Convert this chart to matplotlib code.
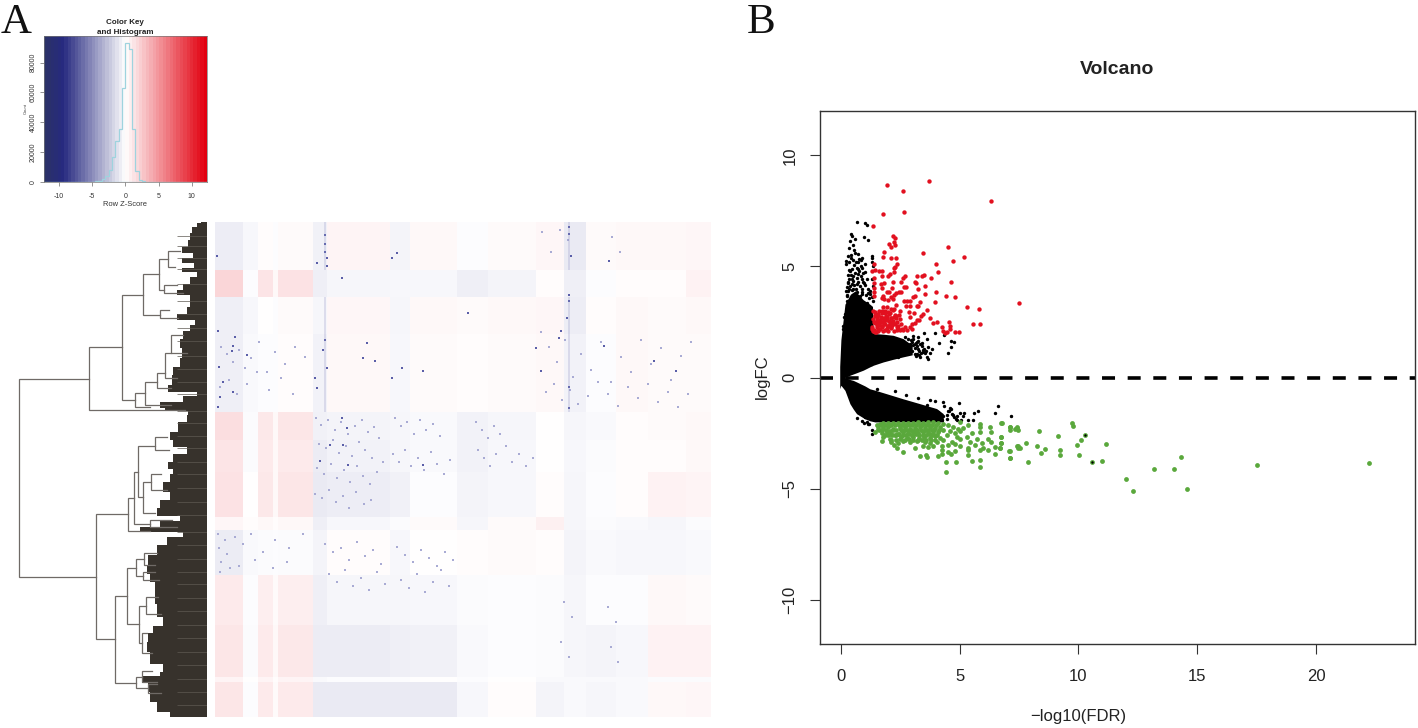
"""Two panel figure: heatmap with dendrogram and colour key (A), volcano plot (B)."""
import numpy as np
import matplotlib
matplotlib.use("Agg")
import matplotlib.pyplot as plt
from matplotlib.colors import LinearSegmentedColormap, Normalize

plt.rcParams['font.family'] = ['Liberation Sans', 'DejaVu Sans']

W, H = 1418, 728

# colour key histogram
hist_edges = [-5, -4.5, -4, -3.5, -3, -2.5, -2, -1.5, -1, -0.5, 0, 0.5, 1, 1.5, 2, 2.5, 3]
hist_counts = [100, 300, 800, 1500, 4000, 7800, 16300, 27500, 35400, 62700,
               93400, 88900, 35200, 7400, 1200, 300]

# heatmap blocks: mean z-score of each row band / column band
row_edges = [0, 48, 75, 112, 190, 218, 250, 295, 308, 353, 403, 455, 460, 495]
col_edges = [0, 28, 43, 58, 63, 98, 112, 175, 195, 242, 272, 320, 348, 370, 400, 432, 470, 495]
z_blocks = [
    [-1.0, -0.4, 0.1, -0.1, 0.2, -0.8, 0.5, -0.6, 0.3, -0.1, 0.2, 0.4, -1.2, 0.2, 0.3, 0.3, 0.4],
    [1.9, -0.1, 1.3, 0.3, 1.4, -0.9, -0.5, -0.4, -0.4, -0.9, -0.6, 0.1, -0.9, -0.1, 0.1, 0.1, 0.6],
    [-0.9, -0.4, 0.0, -0.1, 0.2, -0.5, 0.4, -0.5, 0.3, 0.2, 0.3, 0.4, -1.0, 0.1, 0.3, 0.2, 0.3],
    [-0.9, -0.3, -0.1, -0.1, 0.1, -0.7, 0.3, -0.4, 0.2, 0.1, 0.2, 0.3, -0.7, -0.1, 0.3, 0.2, 0.2],
    [1.5, -0.2, 1.1, 0.3, 1.2, -0.8, -0.6, -0.5, -0.3, -0.7, -0.5, 0.0, -0.5, -0.3, 0.1, 0.2, 0.3],
    [1.3, -0.2, 1.0, 0.3, 1.0, -1.1, -0.7, -0.5, -0.3, -0.7, -0.4, 0.0, -0.4, -0.2, 0.1, 0.1, 0.3],
    [1.4, 0.0, 1.1, 0.3, 1.2, -1.2, -1.0, -0.8, -0.1, -0.6, -0.4, 0.1, -0.5, -0.1, 0.1, 0.6, 0.5],
    [0.4, 0.1, 0.3, 0.1, 0.3, -0.9, -0.4, -0.2, 0.2, -0.5, 0.2, 0.7, -0.5, -0.2, -0.3, -0.5, -0.2],
    [-1.1, -0.3, -0.2, -0.1, -0.2, -0.6, 0.1, -0.4, 0.0, 0.1, 0.2, 0.1, -0.6, -0.3, -0.4, -0.4, -0.3],
    [1.0, -0.1, 0.8, 0.2, 0.8, -0.9, -0.5, -0.5, -0.4, -0.2, -0.1, -0.2, -0.5, -0.1, -0.1, 0.3, 0.2],
    [1.2, -0.2, 1.0, 0.3, 1.1, -1.1, -1.1, -0.9, -0.8, -0.3, -0.1, -0.2, -0.5, -0.6, -0.4, 0.6, 0.6],
    [0.5, 0.0, 0.5, 0.1, 0.5, -0.3, -0.1, -0.1, 0.0, -0.1, 0.0, -0.3, -0.3, -0.3, -0.3, -0.2, -0.2],
    [1.2, -0.1, 1.0, 0.2, 1.0, -1.2, -1.2, -1.2, -1.2, -0.4, 0.1, -0.6, -0.3, -0.5, -0.3, 0.3, 0.4],
]
# dark cells seen in the heatmap
speck_col = [2, 3, 17, 18, 32, 100, 110, 102, 112, 112, 102, 127, 152, 148, 160, 177, 182, 187, 177,
             127, 132, 115, 128, 105, 133, 208, 252, 345, 343, 353, 353, 353, 393, 388, 325, 320,
             208, 438, 460, 110, 110, 353, 353, 110, 112, 108, 355, 351, 353, 4, 8, 20, 5, 18, 3]
speck_row = [34, 109, 129, 124, 133, 156, 118, 41, 44, 146, 166, 56, 121, 136, 139, 36, 31, 146, 156,
             196, 206, 223, 223, 239, 243, 243, 91, 109, 116, 73, 79, 186, 39, 124, 149, 126,
             149, 139, 149, 13, 22, 5, 12, 30, 36, 128, 34, 96, 165, 145, 160, 115, 175, 170, 185]
# paler cells of the speckled regions
pale_col = [101, 106, 113, 120, 126, 133, 140, 147, 153, 159, 104, 111, 118, 124, 131, 137, 144, 150, 157, 164,
            102, 109, 116, 122, 129, 135, 142, 148, 155, 162, 168, 100, 107, 114, 121, 128, 134, 141, 149, 156,
            180, 186, 192, 199, 205, 211, 218, 225, 178, 184, 190, 196, 203, 209, 216, 222, 229, 235,
            260, 266, 272, 278, 284, 262, 268, 274, 280, 290, 296, 303, 310, 317,
            110, 118, 126, 134, 142, 150, 158, 166, 114, 122, 130, 138, 146, 154, 162, 170,
            182, 190, 198, 206, 214, 222, 230, 238, 186, 194, 202, 210, 218, 226, 234,
            6, 12, 18, 24, 30, 36, 44, 52, 60, 70, 80, 90, 5, 14, 22, 32, 42, 54, 66, 78,
            325, 333, 341, 349, 357, 365, 375, 385, 395, 405, 415, 425, 435, 445, 455, 465, 475,
            330, 338, 346, 354, 362, 372, 382, 392, 402, 412, 422, 432, 442, 452, 462, 472,
            3, 10, 4, 12, 6, 15, 5, 20, 28, 36, 48, 60, 74, 88, 24, 40, 58, 72,
            326, 335, 344, 352, 396, 404, 348, 356, 392, 400, 345, 353, 395, 402]
pale_row = [196, 203, 198, 208, 200, 212, 204, 198, 210, 205, 222, 226, 218, 231, 224, 234, 220, 228, 236, 216,
            246, 252, 242, 256, 248, 260, 244, 254, 262, 250, 240, 272, 276, 268, 280, 274, 286, 270, 282, 278,
            196, 204, 200, 212, 198, 208, 202, 214, 232, 240, 228, 244, 236, 248, 230, 242, 252, 238,
            200, 208, 216, 204, 212, 228, 236, 244, 232, 224, 240, 232, 244, 236,
            322, 330, 326, 338, 320, 334, 328, 342, 352, 360, 348, 364, 356, 368, 350, 362,
            325, 333, 340, 328, 336, 344, 330, 338, 358, 366, 352, 370, 360, 348, 364,
            125, 132, 140, 128, 146, 136, 120, 150, 130, 142, 125, 135, 165, 158, 172, 162, 150, 168, 156, 172,
            110, 125, 140, 118, 155, 132, 148, 120, 160, 135, 150, 118, 142, 126, 158, 134, 120,
            170, 162, 178, 168, 182, 174, 160, 172, 184, 165, 176, 162, 180, 170, 185, 172,
            312, 318, 326, 332, 340, 346, 350, 315, 322, 312, 330, 318, 326, 312, 344, 338, 346, 340,
            10, 30, 8, 18, 15, 30, 380, 395, 385, 400, 420, 435, 425, 440]
streak_col = [110, 110, 353, 353]
streak_top = [0, 75, 0, 75]
streak_bot = [48, 190, 48, 190]

# dendrogram: merge height, the two child rows and the two child heights
merge_h = [188, 118, 85, 64, 48, 47, 39, 43, 72, 62, 50, 42, 36,
           111, 79, 73, 69, 64, 52, 56, 57,
           92, 80, 71, 68, 61, 65, 71, 63, 64, 65, 59]
merge_r0 = [157, 125, 73, 52, 37, 88, 29, 63, 171, 160, 151, 131, 113,
            292, 276, 250, 224, 260, 215, 252, 298,
            374, 346, 337, 384, 375, 411, 455, 331, 350, 449, 462]
merge_r1 = [355, 188, 178, 93, 68, 96, 45, 71, 185, 183, 166, 156, 131,
            417, 309, 302, 275, 291, 228, 268, 305,
            461, 402, 354, 421, 392, 431, 466, 343, 358, 460, 471]
merge_c0 = [118, 85, 64, 48, 39, 38, 27, 30, 62, 50, 42, 36, 24,
            79, 73, 69, 52, 56, 40, 46, 35,
            80, 71, 63, 61, 49, 60, 65, 50, 52, 55, 50]
merge_c1 = [111, 22, 72, 47, 43, 29, 32, 24, 57, 36, 36, 30, 20,
            92, 57, 57, 64, 52, 38, 40, 30,
            71, 68, 64, 65, 46, 55, 59, 52, 48, 50, 46]

# left edge of the leaf block
leaf_row = [0, 1.3, 8, 14.7, 21, 28, 33, 38, 43, 48, 51, 58, 65, 71, 75, 81, 88, 96, 100, 105, 113, 121, 131, 141,
            148, 158, 168, 171, 176, 183, 188, 190, 195, 205, 215, 221, 228, 235, 245, 248, 255, 265,
            275, 281, 291, 296, 301, 308, 311, 318, 328, 338, 348, 355, 365, 375, 388, 401, 406, 415,
            425, 435, 448, 451, 456, 465, 475, 485, 495]
leaf_depth = [6, 10, 15, 17, 19, 25, 14, 25, 13, 25, 10, 17, 24, 30, 17, 17, 20, 30, 12, 17, 24, 27, 25, 27,
              34, 35, 39, 10, 24, 47, 42, 19, 20, 29, 37, 34, 20, 34, 39, 34, 37, 44,
              37, 47, 50, 27, 47, 67, 24, 40, 50, 59, 60, 57, 52, 52, 50, 44, 54, 59,
              60, 57, 44, 47, 65, 59, 57, 50, 37]
stripe_row = [14, 24, 36, 47, 62, 79, 92, 106, 119, 134, 147, 160, 172, 189, 201, 214, 226, 240, 252, 266,
              280, 293, 310, 323, 337, 350, 362, 376, 389, 403, 416, 430, 443, 457, 470, 483]

# volcano: envelope of the solid black cloud
up_fdr = [-0.05, 0.0, 0.17, 0.4, 0.6, 0.94, 1.22, 1.33, 1.36, 1.78, 2.2, 2.62, 3.0]
up_top = [0.5, 1.7, 3.3, 3.75, 3.9, 3.5, 3.3, 3.2, 1.98, 1.95, 1.9, 1.75, 1.45]
up_low = [0.0, 0.0, 0.0, 0.11, 0.19, 0.33, 0.48, 0.53, 0.55, 0.70, 0.82, 0.93, 1.02]
down_fdr = [-0.05, 0.0, 0.17, 0.38, 0.52, 0.66, 1.01, 1.22, 1.43, 1.92, 2.62, 3.33, 4.03, 4.31]
down_top = [0.0, 0.0, 0.0, -0.09, -0.13, -0.2, -0.38, -0.51, -0.57, -0.73, -0.96, -1.18, -1.4, -1.63]
down_low = [-0.5, -0.35, -0.58, -1.18, -1.42, -1.63, -1.86, -1.95, -2.0, -2.0, -2.0, -2.0, -2.0, -2.0]

black_fdr = [.66, 1.01, 1.09, .97, 1.16, .41, .46, .60, .38, .52, .35, .56, 1.29, 1.33, .90, .31, .41, .83, .21,
             .35, .73, .20, 1.29, .66, .87, .34, 1.36, .52, .73, .87, .45, 1.29, .24, .45, .66, 1.01, 1.36,
             .31, .52, .87, 1.22, .24, .66, .24, 1.29, 1.36, .13, .17, .07, .10,
             2.69, 2.84, 3.05, 3.26, 3.49, 3.61, 3.19, 2.91, 3.40, 3.68, 3.82, 3.26, 2.98, 3.12, 3.47, 3.75,
             3.33, 3.61, 3.65, 2.62, 2.41, 3.96, 4.34, 4.13, 4.63, 4.77, 4.62, 4.49,
             1.53, 2.27, 2.74, 3.26, 3.75, 3.96, 4.28, 4.97, 4.59, 4.45, 5.18, 4.66, 6.60, 6.48, 5.78, 5.61,
             7.16, 5.36, 5.15, 4.87, 5.57, 1.29, 1.33, 1.15, .66, 1.01, 4.10, 3.61, 3.33, 3.89,
             # denser part of the upper cloud
             .25, .32, .40, .48, .56, .64, .72, .80, .88, .96, 1.04, 1.12, 1.20, .28, .36, .44, .52, .60, .68, .76,
             .84, .92, 1.00, 1.08, 1.16, 1.24, .30, .38, .46, .54, .62, .70, .78, .86, .94, 1.02, .42, .50, .58, .74,
             .90, .48, .62, .80, .55, .70, .95, 1.10, .22, .28,
             3.05, 3.15, 3.25, 3.35, 3.1, 3.2, 3.3, 3.45, 3.55, 3.0, 3.1, 3.22, 3.38, 3.5, 2.95, 3.05, 3.18, 3.3, 3.42, 3.58,
             # right end of the lower cloud
             3.5, 3.7, 3.9, 4.1, 4.3, 4.5, 4.7, 4.85, 5.0, 3.6, 3.85, 4.05, 4.25, 4.45, 4.65, 4.9, 4.35, 4.55, 4.75, 5.05,
             .90, .98, 1.08, 1.18]
black_fc = [6.99, 6.94, 6.87, 6.33, 6.19, 6.48, 6.37, 6.25, 6.15, 5.97, 5.82, 5.76, 5.48, 5.40, 5.40, 5.48, 5.37, 5.30, 5.25,
            5.18, 5.18, 5.10, 5.18, 4.95, 4.91, 4.85, 5.03, 4.58, 4.65, 4.43, 4.43, 4.43, 4.08, 4.20, 4.20, 4.17, 4.13,
            3.90, 3.98, 3.98, 3.90, 3.68, 3.83, 3.46, 3.61, 3.46, 2.71, 2.86, 2.33, 2.18,
            1.81, 1.74, 1.89, 1.84, 1.99, 1.74, 1.59, 1.51, 1.44, 1.36, 1.29, 1.29, 1.21, 1.06, 1.14, 1.09,
            .91, .91, .84, 1.06, .91, 1.99, 1.93, 1.54, 1.66, 1.62, 1.36, 1.09,
            -.51, -.61, -.81, -.91, -1.0, -1.06, -1.11, -1.15, -1.38, -1.71, -1.60, -1.63, -1.29, -1.59, -1.51, -1.60,
            -1.75, -1.93, -1.75, -1.93, -1.93, -2.38, -2.53, -2.08, -1.81, -1.78, -1.56, -1.26, -1.48, -1.48,
            3.7, 4.0, 4.1, 3.95, 4.15, 4.0, 4.3, 4.1, 3.85, 4.25, 3.7, 4.0, 3.6, 4.25, 4.45, 4.6, 4.35, 4.7, 4.5, 4.8,
            4.55, 4.3, 4.75, 4.45, 3.8, 3.75, 4.6, 4.8, 4.9, 5.05, 5.2, 4.9, 5.35, 5.0, 4.7, 5.1, 5.5, 5.3, 5.6, 5.55,
            3.75, 3.6, 3.55, 3.65, 3.45, 3.5, 3.4, 3.35, 3.9, 4.3,
            1.72, 1.55, 1.65, 1.5, 1.35, 1.4, 1.2, 1.25, 1.1, 1.6, 1.5, 1.05, 1.1, 1.3, 1.7, 1.45, 0.95, 1.0, 1.55, 1.2,
            -1.4, -1.55, -1.7, -1.55, -1.75, -1.5, -1.7, -1.85, -1.6, -1.85, -1.9, -1.8, -1.9, -1.85, -1.4, -1.75, -1.3, -1.5, -1.8, -1.9,
            -1.95, -2.05, -2.0, -2.1]

red_fdr = [1.94, 2.61, 3.71, 6.32, 1.77, 2.67, 1.36, 2.20, 2.27, 2.23, 2.01, 2.27, 2.09, 1.82, 1.78, 2.12, 2.30, 3.47, 4.52,
           5.18, 4.70, 1.40, 4.01, 2.36, 2.29, 2.22, 1.43, 1.33, 1.61, 1.71, 2.23, 4.10, 1.73, 2.06, 1.98, 1.39, 2.62, 2.71,
           3.19, 3.40, 3.49, 3.80, 3.13, 4.65, 1.40, 1.68, 1.81, 2.20, 2.53, 3.16, 1.73, 2.65, 2.72, 3.52, 1.40, 2.16, 3.23,
           1.40, 2.43, 2.51, 1.92, 2.01, 1.78, 2.23, 2.33, 4.01, 3.56, 4.41, 4.80, 1.40, 2.11, 1.74, 1.82, 1.99, 2.18, 3.12,
           3.05, 2.65, 2.79, 2.93, 3.96, 3.33, 7.49, 3.26, 3.19, 2.72, 2.91, 5.31, 5.81, 3.62, 2.33, 1.78, 1.92, 2.09, 2.20,
           1.71, 1.36, 2.88, 3.09, 3.47, 3.37, 2.48, 1.43, 1.57, 1.85, 2.02, 2.27, 2.46, 1.50, 1.68, 1.88, 2.11, 2.32, 1.36,
           1.64, 1.81, 2.04, 2.20, 2.48, 2.93, 3.19, 3.30, 3.75, 3.89, 4.06, 4.56, 1.43, 1.61, 1.85, 2.06, 2.27, 2.55, 2.98,
           3.12, 5.57, 5.87, 1.33, 1.50, 1.71, 1.92, 2.13, 2.37, 2.69, 2.91, 4.27, 4.59, 1.36, 1.57, 1.78, 1.99, 2.23, 2.48,
           4.28, 4.38, 4.48, 4.80, 4.97, 4.59, 1.31, 1.43,
           1.50, 1.64, 1.85, 1.99, 2.15, 1.55, 1.75, 1.92, 2.30, 2.40, 1.45, 1.60, 1.70, 2.00, 2.35, 2.60, 2.80, 3.00,
           1.38, 1.47, 1.55, 1.62, 1.73, 1.80, 1.90, 2.05, 2.12, 2.25, 1.40, 1.52, 1.66, 1.76, 1.88, 1.97, 2.10, 2.18,
           2.40, 2.56, 1.42, 1.58, 1.72, 1.84, 1.95, 2.08, 2.22, 2.38]
red_fc = [8.68, 8.39, 8.84, 7.94, 7.36, 7.47, 6.84, 6.36, 6.27, 6.10, 6.00, 5.97, 5.88, 5.63, 5.43, 5.37, 5.39, 5.60, 5.89,
          5.43, 5.25, 5.13, 5.09, 5.09, 4.98, 4.92, 4.85, 4.80, 4.80, 4.79, 4.77, 4.76, 4.58, 4.65, 4.59, 4.50, 4.47, 4.59,
          4.55, 4.59, 4.61, 4.47, 4.32, 4.28, 4.26, 4.20, 4.25, 4.29, 4.32, 4.25, 4.05, 4.08, 4.08, 4.10, 4.05, 4.05, 3.98,
          3.87, 3.84, 3.87, 3.83, 3.87, 3.68, 3.73, 3.79, 3.83, 3.77, 3.68, 3.64, 3.68, 3.64, 3.58, 3.53, 3.49, 3.52, 3.68,
          3.64, 3.43, 3.43, 3.43, 3.38, 3.40, 3.35, 3.22, 3.20, 3.22, 3.22, 3.16, 3.10, 3.05, 3.26, 3.16, 3.16, 3.08, 3.05,
          3.01, 2.98, 2.93, 2.90, 2.86, 2.78, 3.01, 2.83, 2.86, 2.89, 2.86, 2.83, 2.83, 2.71, 2.74, 2.71, 2.68, 2.68, 2.63,
          2.59, 2.56, 2.56, 2.56, 2.63, 2.71, 2.59, 2.59, 2.68, 2.45, 2.48, 2.50, 2.44, 2.41, 2.41, 2.41, 2.41, 2.41, 2.41,
          2.44, 2.42, 2.42, 2.26, 2.26, 2.26, 2.23, 2.29, 2.26, 2.26, 2.29, 2.26, 2.30, 2.11, 2.08, 2.08, 2.08, 2.11, 2.14,
          2.08, 2.00, 2.03, 2.05, 2.05, 2.18, 2.18, 2.03,
          2.35, 2.20, 2.15, 2.30, 2.35, 2.50, 2.50, 2.60, 2.75, 2.20, 2.95, 3.00, 2.70, 2.95, 2.12, 2.12, 2.15, 2.20,
          2.12, 2.04, 2.18, 2.38, 2.34, 2.42, 2.62, 2.48, 2.66, 2.72, 2.52, 2.58, 2.50, 2.66, 2.78, 2.34, 2.22, 2.46,
          2.34, 2.18, 2.75, 2.80, 2.92, 2.98, 2.72, 2.90, 3.10, 2.50]

green_fdr = [1.50, 1.64, 1.78, 1.99, 2.20, 2.41, 2.62, 2.84, 3.05, 3.26, 3.47, 3.68, 3.89, 4.10, 4.31, 5.01, 5.36, 5.85, 6.76,
             1.57, 1.78, 1.99, 2.20, 2.48, 2.69, 2.91, 3.12, 3.33, 3.54, 3.75, 3.96, 4.17, 4.52, 4.73, 4.94, 5.15, 5.85, 6.27, 7.12, 7.40, 7.47,
             1.43, 1.71, 1.92, 2.13, 2.41, 2.62, 2.84, 3.05, 3.26, 3.47, 3.68, 3.89, 4.10, 4.31, 4.59, 4.80, 5.01, 5.50, 5.85, 6.34,
             1.78, 2.06, 2.27, 2.55, 2.79, 3.05, 3.30, 3.50, 3.75, 3.96, 4.17, 4.45, 4.87, 5.01, 5.29, 5.71, 6.20, 6.76,
             1.71, 2.13, 2.41, 2.62, 2.91, 3.19, 3.54, 3.75, 4.03, 4.31, 4.66, 4.80, 5.43, 5.92, 6.34, 6.76, 7.47,
             2.23, 2.37, 3.12, 3.47, 3.68, 3.89, 4.24, 4.52, 5.01, 5.36, 5.64, 5.99, 6.48, 6.69, 7.09,
             2.60, 4.24, 4.52, 4.80, 5.36, 5.85, 6.20,
             3.35, 3.58, 3.64, 4.10, 4.24, 4.62, 5.36, 6.48,
             4.43, 4.84, 5.54, 5.84, 7.13, 5.84, 4.43,
             6.77, 7.10, 7.13, 7.31, 7.43, 6.75, 6.75, 6.69, 7.10, 7.13, 7.43, 7.47, 7.54, 7.79, 7.87, 8.32, 8.27, 8.42, 8.60,
             9.14, 9.24, 9.22, 9.71, 9.77, 10.26, 10.09, 9.95, 10.03, 10.56, 10.99, 11.14, 11.99, 12.28, 13.18, 14.02, 14.32,
             14.57, 17.53, 22.23,
             # solid part of the band
             1.55, 1.68, 1.85, 2.02, 2.12, 2.28, 2.45, 2.58, 2.72, 2.88, 3.00, 3.15, 3.32, 3.42, 3.60, 3.72, 3.85, 4.00,
             1.62, 1.74, 1.90, 2.05, 2.18, 2.34, 2.52, 2.66, 2.78, 2.95, 3.10, 3.22, 3.38, 3.52, 3.66, 3.82, 3.92, 4.12,
             1.85, 2.00, 2.16, 2.32, 2.46, 2.60, 2.74, 2.86, 3.00, 3.18, 3.28, 3.44, 3.58, 3.70, 3.84, 4.06,
             2.10, 2.30, 2.50, 2.70, 2.85, 3.02, 3.24, 3.40, 3.60, 3.78, 3.98]
green_fc = [-2.15, -2.08, -2.05, -2.03, -2.05, -2.03, -2.05, -2.03, -2.03, -2.02, -2.03, -2.02, -2.02, -2.03, -2.08, -2.00, -2.15, -2.08, -2.03,
            -2.30, -2.26, -2.23, -2.30, -2.26, -2.23, -2.30, -2.26, -2.23, -2.26, -2.23, -2.26, -2.23, -2.15, -2.23, -2.30, -2.26, -2.23, -2.23, -2.23, -2.23, -2.38,
            -2.45, -2.48, -2.45, -2.53, -2.53, -2.45, -2.50, -2.45, -2.50, -2.45, -2.45, -2.50, -2.45, -2.38, -2.41, -2.48, -2.42, -2.50, -2.45, -2.45,
            -2.68, -2.75, -2.60, -2.68, -2.72, -2.68, -2.72, -2.68, -2.72, -2.65, -2.72, -2.60, -2.68, -2.75, -2.68, -2.75, -2.78, -2.68,
            -2.86, -2.90, -2.95, -2.86, -2.90, -2.87, -2.90, -2.95, -2.90, -2.83, -2.90, -3.01, -2.90, -2.95, -2.90, -2.95, -3.10,
            -3.05, -3.16, -3.16, -3.10, -3.13, -3.10, -3.10, -3.05, -3.10, -3.16, -3.05, -3.16, -3.13, -3.16, -3.32,
            -3.35, -3.28, -3.35, -3.30, -3.28, -3.25, -3.28,
            -3.52, -3.49, -3.60, -3.55, -3.46, -3.46, -3.50, -3.46,
            -3.79, -3.79, -3.76, -3.70, -3.63, -4.05, -4.25,
            -2.05, -2.23, -2.38, -2.32, -2.26, -2.68, -2.96, -3.16, -3.31, -3.62, -3.07, -3.16, -3.16, -2.96, -3.79, -2.39, -3.07, -3.38, -3.22,
            -2.65, -3.28, -3.50, -2.05, -2.20, -2.57, -2.83, -3.02, -3.50, -3.79, -3.77, -2.99, -4.56, -5.10, -4.11, -4.14, -3.58,
            -5.01, -3.95, -3.83,
            -2.18, -2.14, -2.15, -2.14, -2.16, -2.13, -2.15, -2.14, -2.13, -2.15, -2.13, -2.14, -2.14, -2.16, -2.13, -2.14, -2.13, -2.15,
            -2.38, -2.36, -2.35, -2.40, -2.38, -2.36, -2.37, -2.35, -2.38, -2.36, -2.35, -2.38, -2.36, -2.35, -2.38, -2.36, -2.35, -2.38,
            -2.58, -2.58, -2.60, -2.58, -2.56, -2.58, -2.60, -2.56, -2.58, -2.56, -2.60, -2.58, -2.60, -2.56, -2.60, -2.58,
            -2.80, -2.80, -2.78, -2.80, -2.78, -2.82, -2.80, -2.82, -2.80, -2.82, -2.80]
lone_black_fdr = [7.15, 10.26, 10.56]
lone_black_fc = [-1.75, -2.57, -3.79]


def box(left, top, right, bottom):
    # pixel box of the picture to figure fractions
    return [left / W, 1 - bottom / H, (right - left) / W, (bottom - top) / H]


fig = plt.figure(figsize=(W / 100, H / 100), dpi=100)
fig.text(1 / W, 1 - 33 / H, "A", family="Liberation Serif", fontsize=31, color="#111111")
fig.text(747 / W, 1 - 33 / H, "B", family="Liberation Serif", fontsize=31, color="#111111")

# colour scale
zmap = LinearSegmentedColormap.from_list(
    "key", [(0, "#2b3268"), (0.11, "#272a80"), (0.5, "#ffffff"), (1, "#e2000f")], N=48)
znorm = Normalize(-12.23, 12.23)

# colour key
ax = fig.add_axes(box(43.7, 35.7, 206.7, 181.7))
ax.imshow(np.linspace(-12.23, 12.23, 48)[None, :], cmap=zmap, norm=znorm, aspect="auto",
          extent=(-12.23, 12.23, 0, 98100), interpolation="nearest")
ax.stairs(hist_counts, hist_edges, color="#9ed3de", lw=0.9, baseline=0)
ax.axhline(0, color="#9ed3de", lw=0.9)
ax.set_xlim(-12.23, 12.23)
ax.set_ylim(0, 98100)
ax.set_xticks([-10, -5, 0, 5, 10])
ax.set_xticklabels(["-10", "-5", "0", "5", "10"])
ax.set_yticks([0, 20000, 40000, 60000, 80000])
ax.set_yticklabels(["0", "20000", "40000", "60000", "80000"], rotation=90, va="center")
ax.tick_params(labelsize=5, length=3, width=0.4, color="#444444", labelcolor="#333333")
ax.tick_params(axis="x", pad=5)
ax.tick_params(axis="y", pad=2)
for s in ax.spines.values():
    s.set_color("#777777")
    s.set_linewidth(0.5)
fig.text(125 / W, 1 - 204.5 / H, "Row Z-Score", fontsize=5.4, color="#333333", ha="center", va="center")
fig.text(26 / W, 1 - 109 / H, "Count", fontsize=3, color="#333333", rotation=90, ha="center", va="center")
fig.text(125 / W, 1 - 23 / H, "Color Key", fontsize=5.8, weight="bold", color="#222222", ha="center", va="center")
fig.text(125 / W, 1 - 33 / H, "and Histogram", fontsize=5.8, weight="bold", color="#222222", ha="center", va="center")

# dendrogram
ax = fig.add_axes(box(17, 222, 207, 717))
ax.set_xlim(190, 0)
ax.set_ylim(495, 0)
ax.axis("off")
ax.fill_betweenx(leaf_row, leaf_depth, 0, color="#37322c", lw=0, step="mid")
ax.hlines(stripe_row, 0, 30, color="#5e5952", lw=0.5)
for h, r0, r1, c0, c1 in zip(merge_h, merge_r0, merge_r1, merge_c0, merge_c1):
    ax.plot([c0, h, h, c1], [r0, r0, r1, r1], color="#6f6a66", lw=0.9, solid_joinstyle="miter")

# heatmap
ax = fig.add_axes(box(215, 222, 711, 717))
ax.pcolormesh(col_edges, row_edges, np.array(z_blocks), cmap=LinearSegmentedColormap.from_list(
    "cells", ["#272a80", "#ffffff", "#e2000f"], N=256), norm=Normalize(-12, 12))
ax.vlines(streak_col, streak_top, streak_bot, color="#8f92c4", lw=1.2, alpha=0.3)
ax.scatter(pale_col, pale_row, s=3, color="#a9abd4", lw=0, marker="s")
ax.scatter(speck_col, speck_row, s=2.5, color="#5a5ea8", lw=0, marker="s")
ax.set_xlim(0, 495)
ax.set_ylim(495, 0)
ax.axis("off")

# volcano
ax = fig.add_axes(box(820, 111, 1415, 644))
ax.fill_between(up_fdr, up_low, up_top, color="black", lw=0)
ax.fill_between(down_fdr, down_top, down_low, color="black", lw=0)
ax.scatter(black_fdr, black_fc, s=6, color="black", lw=0)
ax.scatter(red_fdr, red_fc, s=10, color="#e2101f", lw=0)
ax.scatter(green_fdr, green_fc, s=12, color="#5aa83c", lw=0)
ax.scatter(lone_black_fdr, lone_black_fc, s=3, color="black", lw=0)
ax.plot([-0.88, 24.17], [0, 0], color="black", lw=2.6, dashes=(3.6, 3.5), dash_capstyle="butt")
ax.set_xlim(-0.88, 24.17)
ax.set_ylim(-12, 12)
ax.set_xticks([0, 5, 10, 15, 20])
ax.set_yticks([-10, -5, 0, 5, 10])
ax.set_yticklabels(["\u221210", "\u22125", "0", "5", "10"], rotation=90, va="center")
ax.tick_params(labelsize=12, length=7.2, width=0.8, color="#333333", labelcolor="#222222")
ax.tick_params(axis="x", pad=11)
ax.tick_params(axis="y", pad=9)
for s in ax.spines.values():
    s.set_color("#333333")
    s.set_linewidth(1.0)
fig.text(1078 / W, 1 - 716 / H, "\u2212log10(FDR)", fontsize=12, color="#222222", ha="center", va="center")
fig.text(762 / W, 1 - 377 / H, "logFC", fontsize=12, color="#222222", rotation=90, ha="center", va="center")
fig.text(1117 / W, 1 - 69 / H, "Volcano", fontsize=14, weight="bold", color="#222222", ha="center", va="center")

fig.savefig("out.png", dpi=100)
